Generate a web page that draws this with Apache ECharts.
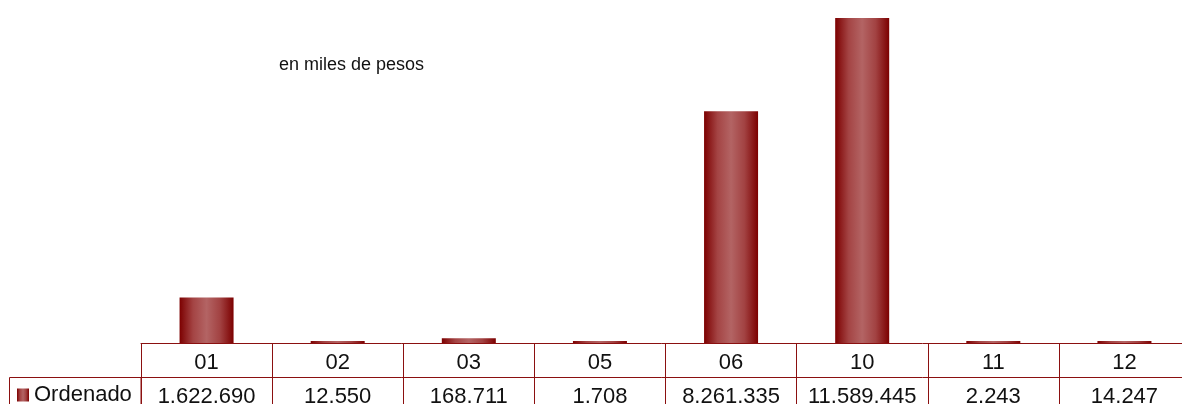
<!DOCTYPE html>
<html>
<head>
<meta charset="utf-8">
<script src="https://cdn.jsdelivr.net/npm/echarts@6/dist/echarts.min.js"></script>
<style>
html,body{margin:0;padding:0;background:#fff;overflow:hidden;}
#c{width:1182px;height:404px;}
</style>
</head>
<body>
<div id="c"></div>
<script>
const categories = ['01','02','03','05','06','10','11','12'];
const seriesName = 'Ordenado';
const values = [1622690, 12550, 168711, 1708, 8261335, 11589445, 2243, 14247];
const valueLabels = ['1.622.690','12.550','168.711','1.708','8.261.335','11.589.445','2.243','14.247'];
const subtitle = 'en miles de pesos';

const lineColor = '#8b1010';
const font = '"Liberation Sans", Arial, sans-serif';
const barGradient = {
  type: 'linear', x: 0, y: 0, x2: 1, y2: 0,
  colorStops: [
    {offset: 0, color: '#7c0000'},
    {offset: 0.25, color: '#a44444'},
    {offset: 0.5, color: '#b36464'},
    {offset: 0.75, color: '#a24242'},
    {offset: 1, color: '#7c0000'}
  ]
};

const chart = echarts.init(document.getElementById('c'));
chart.setOption({
  animation: false,
  title: {
    text: subtitle, left: 279, top: 56, padding: 0,
    textStyle: {fontFamily: font, fontSize: 18, fontWeight: 'normal', color: '#111'}
  },
  legend: {
    data: [seriesName], left: 12, top: 384, padding: [0,5,0,5],
    icon: 'rect', itemWidth: 12, itemHeight: 13, itemGap: 5,
    textStyle: {fontFamily: font, fontSize: 22, color: '#111'}
  },
  grid: {left: 141, top: 18, width: 1049, height: 325, containLabel: false, outerBoundsMode: 'none'},
  xAxis: [
    {
      type: 'category', data: categories, position: 'bottom',
      axisLine: {show: true, lineStyle: {color: lineColor, width: 1}},
      axisTick: {show: true, interval: 0, length: 70, lineStyle: {color: lineColor, width: 1}},
      axisLabel: {interval: 0, margin: 9, fontFamily: font, fontSize: 22, lineHeight: 22, color: '#111'}
    },
    {
      type: 'category', data: categories, position: 'bottom', offset: 34,
      axisLine: {show: true, lineStyle: {color: lineColor, width: 1}},
      axisTick: {show: false},
      axisLabel: {interval: 0, margin: 9, fontFamily: font, fontSize: 22, lineHeight: 22, color: '#111',
        formatter: (v, i) => valueLabels[i]}
    }
  ],
  yAxis: {type: 'value', min: 0, max: 11589445, show: false, splitLine: {show: false}},
  graphic: [{
    type: 'rect', shape: {x: 9.5, y: 377.5, width: 131.5, height: 40},
    style: {fill: 'none', stroke: lineColor, lineWidth: 1}, silent: true
  }],
  series: [{
    name: seriesName, type: 'bar', data: values, xAxisIndex: 0,
    barWidth: 54, barMinHeight: 2,
    itemStyle: {color: barGradient}
  }]
});
</script>
</body>
</html>
